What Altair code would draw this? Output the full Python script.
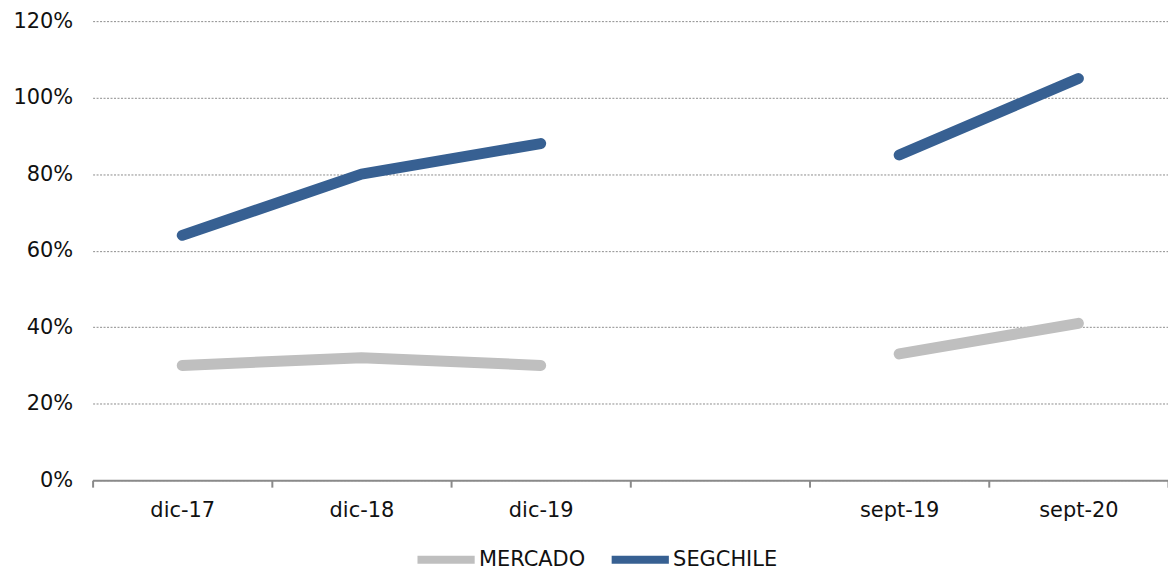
import altair as alt
import pandas as pd

# Periods and the segment each one belongs to (annual closes vs. September cuts)
periodos = ["dic-17", "dic-18", "dic-19", "sept-19", "sept-20"]
tramo = ["anual", "anual", "anual", "septiembre", "septiembre"]

# Series values (share, 1.0 = 100%)
mercado = [0.30, 0.32, 0.30, 0.33, 0.41]
segchile = [0.64, 0.80, 0.88, 0.85, 1.05]

# Category order on the x axis, with an empty slot separating both segments
orden_eje = ["dic-17", "dic-18", "dic-19", " ", "sept-19", "sept-20"]
series = ["MERCADO", "SEGCHILE"]
colores = ["#BFBFBF", "#376092"]
ticks_y = [0, 0.2, 0.4, 0.6, 0.8, 1.0, 1.2]

rows = []
for serie, vals in zip(series, (mercado, segchile)):
    for p, t, v in zip(periodos, tramo, vals):
        rows.append({"periodo": p, "tramo": t, "serie": serie, "valor": v})
df = pd.DataFrame(rows)

FONT = "DejaVu Sans"
FS = 21

chart = (
    alt.Chart(df)
    .mark_line(strokeWidth=11, strokeCap="round", strokeJoin="round")
    .encode(
        x=alt.X(
            "periodo:N",
            sort=orden_eje,
            bandPosition=0.5,
            scale=alt.Scale(type="band", domain=orden_eje, paddingInner=0, paddingOuter=0),
            axis=alt.Axis(
                title=None,
                labelAngle=0,
                tickBand="extent",
                tickSize=7,
                tickColor="#8a8a8a",
                tickWidth=2,
                domainColor="#8a8a8a",
                domainWidth=2,
                grid=False,
                labelFont=FONT,
                labelFontSize=FS,
                labelColor="#111111",
                labelPadding=12,
            ),
        ),
        y=alt.Y(
            "valor:Q",
            scale=alt.Scale(domain=[0, 1.2], nice=False),
            axis=alt.Axis(
                title=None,
                format="%",
                values=ticks_y,
                domain=False,
                ticks=False,
                grid=True,
                gridDash=[2, 1.5],
                gridColor="#8c8c8c",
                gridWidth=1,
                labelFont=FONT,
                labelFontSize=FS,
                labelColor="#111111",
                labelPadding=20,
            ),
        ),
        color=alt.Color(
            "serie:N",
            scale=alt.Scale(domain=series, range=colores),
            legend=alt.Legend(
                title=None,
                orient="none",
                direction="horizontal",
                legendX=322,
                legendY=508,
                symbolType="stroke",
                symbolStrokeWidth=8,
                symbolSize=3300,
                labelFont=FONT,
                labelFontSize=FS,
                labelColor="#111111",
                labelOffset=0,
                columnPadding=10,
            ),
        ),
        detail="tramo:N",
    )
    .properties(
        width=1080,
        height=461,
        autosize=alt.AutoSizeParams(type="none"),
        padding={"left": 93, "top": 20, "right": 0, "bottom": 91},
    )
    .configure(background="white")
    .configure_view(stroke=None)
)

chart.save("out.html", embed_options={"renderer": "svg", "actions": False})
